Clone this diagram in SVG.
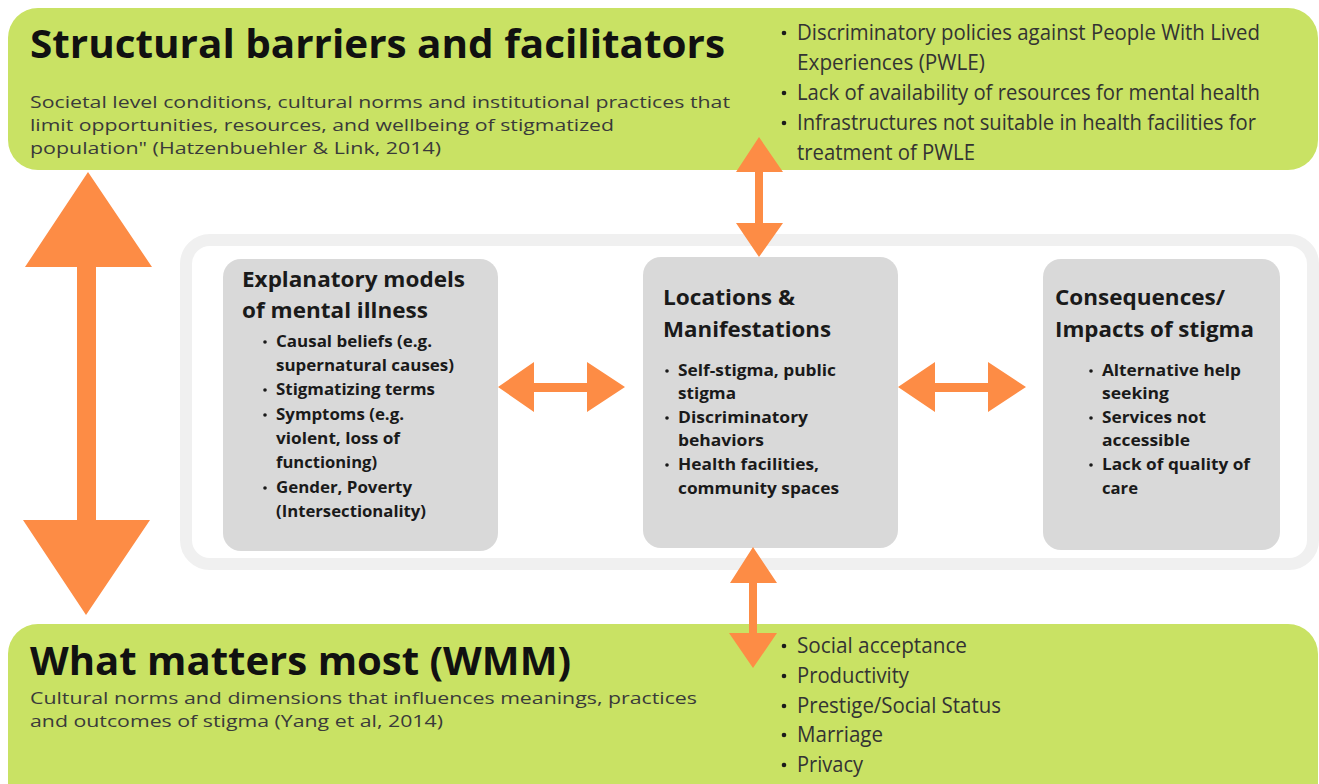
<svg xmlns="http://www.w3.org/2000/svg" width="1319" height="784" viewBox="0 0 1319 784">
<style>
.green{fill:#c9e264}
.box{fill:#d9d9d9}
.arrow{fill:#fd8c45}
.h1{font-family:"Open Sans","DejaVu Sans",sans-serif;font-weight:700;font-size:40px;fill:#111}
.sub{font-family:"Open Sans","DejaVu Sans",sans-serif;font-weight:400;font-size:16.5px;fill:#3a3a3a}
.bl{font-family:"Open Sans","DejaVu Sans",sans-serif;font-weight:400;font-size:21px;fill:#333}
.h2{font-family:"Open Sans","DejaVu Sans",sans-serif;font-weight:700;font-size:21px;fill:#1a1a1a}
.bt{font-family:"Open Sans","DejaVu Sans",sans-serif;font-weight:700;font-size:16px;fill:#1a1a1a}
.dot{fill:#1a1a1a}
</style>
<rect width="1319" height="784" fill="#ffffff"/>

<g id="structural">
<rect class="green" x="8" y="8" width="1310" height="162" rx="30"/>
<text class="h1" x="30" y="58" textLength="695" lengthAdjust="spacingAndGlyphs">Structural barriers and facilitators</text>
<text class="sub" x="30" y="108" textLength="700" lengthAdjust="spacingAndGlyphs">Societal level conditions, cultural norms and institutional practices that</text>
<text class="sub" x="30" y="131" textLength="584" lengthAdjust="spacingAndGlyphs">limit opportunities, resources, and wellbeing of stigmatized</text>
<text class="sub" x="30" y="154" textLength="411" lengthAdjust="spacingAndGlyphs">population" (Hatzenbuehler &amp; Link, 2014)</text>
<circle class="dot" cx="784" cy="33" r="2.3"/>
<circle class="dot" cx="784" cy="93" r="2.3"/>
<circle class="dot" cx="784" cy="123" r="2.3"/>
<text class="bl" x="797" y="40" textLength="463" lengthAdjust="spacingAndGlyphs">Discriminatory policies against People With Lived</text>
<text class="bl" x="797" y="70" textLength="188" lengthAdjust="spacingAndGlyphs">Experiences (PWLE)</text>
<text class="bl" x="797" y="100" textLength="463" lengthAdjust="spacingAndGlyphs">Lack of availability of resources for mental health</text>
<text class="bl" x="797" y="130" textLength="459" lengthAdjust="spacingAndGlyphs">Infrastructures not suitable in health facilities for</text>
<text class="bl" x="797" y="160" textLength="178" lengthAdjust="spacingAndGlyphs">treatment of PWLE</text>
</g>

<g id="wmm">
<rect class="green" x="8" y="624" width="1310" height="190" rx="30"/>
<text class="h1" x="30" y="675" textLength="541" lengthAdjust="spacingAndGlyphs">What matters most (WMM)</text>
<text class="sub" x="30" y="704" textLength="667" lengthAdjust="spacingAndGlyphs">Cultural norms and dimensions that influences meanings, practices</text>
<text class="sub" x="30" y="727" textLength="413" lengthAdjust="spacingAndGlyphs">and outcomes of stigma (Yang et al, 2014)</text>
<circle class="dot" cx="784" cy="646" r="2.3"/>
<circle class="dot" cx="784" cy="676" r="2.3"/>
<circle class="dot" cx="784" cy="706" r="2.3"/>
<circle class="dot" cx="784" cy="735" r="2.3"/>
<circle class="dot" cx="784" cy="765" r="2.3"/>
<text class="bl" x="797" y="653" textLength="170" lengthAdjust="spacingAndGlyphs">Social acceptance</text>
<text class="bl" x="797" y="683" textLength="112" lengthAdjust="spacingAndGlyphs">Productivity</text>
<text class="bl" x="797" y="713" textLength="204" lengthAdjust="spacingAndGlyphs">Prestige/Social Status</text>
<text class="bl" x="797" y="742" textLength="86" lengthAdjust="spacingAndGlyphs">Marriage</text>
<text class="bl" x="797" y="772" textLength="66" lengthAdjust="spacingAndGlyphs">Privacy</text>
</g>

<g id="container">
<rect x="186" y="240" width="1127" height="324" rx="24" fill="#ffffff" stroke="#f0f0f0" stroke-width="12"/>
</g>

<g id="explanatory">
<rect class="box" x="223" y="259" width="275" height="292" rx="18"/>
<text class="h2" x="242" y="287" textLength="223" lengthAdjust="spacingAndGlyphs">Explanatory models</text>
<text class="h2" x="242" y="318" textLength="186" lengthAdjust="spacingAndGlyphs">of mental illness</text>
<circle class="dot" cx="265" cy="342" r="1.8"/>
<circle class="dot" cx="265" cy="390" r="1.8"/>
<circle class="dot" cx="265" cy="415" r="1.8"/>
<circle class="dot" cx="265" cy="488" r="1.8"/>
<text class="bt" x="276" y="347" textLength="156" lengthAdjust="spacingAndGlyphs">Causal beliefs (e.g.</text>
<text class="bt" x="276" y="371" textLength="178" lengthAdjust="spacingAndGlyphs">supernatural causes)</text>
<text class="bt" x="276" y="395" textLength="159" lengthAdjust="spacingAndGlyphs">Stigmatizing terms</text>
<text class="bt" x="276" y="420" textLength="128" lengthAdjust="spacingAndGlyphs">Symptoms (e.g.</text>
<text class="bt" x="276" y="444" textLength="124" lengthAdjust="spacingAndGlyphs">violent, loss of</text>
<text class="bt" x="276" y="468" textLength="101" lengthAdjust="spacingAndGlyphs">functioning)</text>
<text class="bt" x="276" y="493" textLength="136" lengthAdjust="spacingAndGlyphs">Gender, Poverty</text>
<text class="bt" x="276" y="517" textLength="150" lengthAdjust="spacingAndGlyphs">(Intersectionality)</text>
</g>

<g id="locations">
<rect class="box" x="643" y="257" width="255" height="291" rx="18"/>
<text class="h2" x="663" y="305" textLength="132" lengthAdjust="spacingAndGlyphs">Locations &amp;</text>
<text class="h2" x="663" y="337" textLength="168" lengthAdjust="spacingAndGlyphs">Manifestations</text>
<circle class="dot" cx="667" cy="371" r="1.8"/>
<circle class="dot" cx="667" cy="418" r="1.8"/>
<circle class="dot" cx="667" cy="465" r="1.8"/>
<text class="bt" x="678" y="376" textLength="158" lengthAdjust="spacingAndGlyphs">Self-stigma, public</text>
<text class="bt" x="678" y="399" textLength="58" lengthAdjust="spacingAndGlyphs">stigma</text>
<text class="bt" x="678" y="423" textLength="130" lengthAdjust="spacingAndGlyphs">Discriminatory</text>
<text class="bt" x="678" y="446" textLength="86" lengthAdjust="spacingAndGlyphs">behaviors</text>
<text class="bt" x="678" y="470" textLength="141" lengthAdjust="spacingAndGlyphs">Health facilities,</text>
<text class="bt" x="678" y="494" textLength="161" lengthAdjust="spacingAndGlyphs">community spaces</text>
</g>

<g id="consequences">
<rect class="box" x="1043" y="259" width="237" height="291" rx="18"/>
<text class="h2" x="1055" y="305" textLength="170" lengthAdjust="spacingAndGlyphs">Consequences/</text>
<text class="h2" x="1055" y="337" textLength="199" lengthAdjust="spacingAndGlyphs">Impacts of stigma</text>
<circle class="dot" cx="1091" cy="371" r="1.8"/>
<circle class="dot" cx="1091" cy="418" r="1.8"/>
<circle class="dot" cx="1091" cy="465" r="1.8"/>
<text class="bt" x="1102" y="376" textLength="139" lengthAdjust="spacingAndGlyphs">Alternative help</text>
<text class="bt" x="1102" y="399" textLength="67" lengthAdjust="spacingAndGlyphs">seeking</text>
<text class="bt" x="1102" y="423" textLength="104" lengthAdjust="spacingAndGlyphs">Services not</text>
<text class="bt" x="1102" y="446" textLength="88" lengthAdjust="spacingAndGlyphs">accessible</text>
<text class="bt" x="1102" y="470" textLength="148" lengthAdjust="spacingAndGlyphs">Lack of quality of</text>
<text class="bt" x="1102" y="494" textLength="36" lengthAdjust="spacingAndGlyphs">care</text>
</g>

<g id="connectors">
<polygon class="arrow" points="88,172 152,267 96,267 96,520 150,520 86,615 23,520 77,520 77,267 25,267"/>
<polygon class="arrow" points="759,137 783,172 763,172 763,223 783,223 759,257 736,223 755,223 755,172 736,172"/>
<polygon class="arrow" points="753,547 777,583 757,583 757,633 777,633 753,668 729,633 749,633 749,583 730,583"/>
<polygon class="arrow" points="498,387 534,362 534,383 587,383 587,362 625,387 587,412 587,392 534,392 534,412"/>
<polygon class="arrow" points="898,387 935,362 935,383 988,383 988,362 1026,387 988,412 988,392 935,392 935,412"/>
</g>
</svg>
